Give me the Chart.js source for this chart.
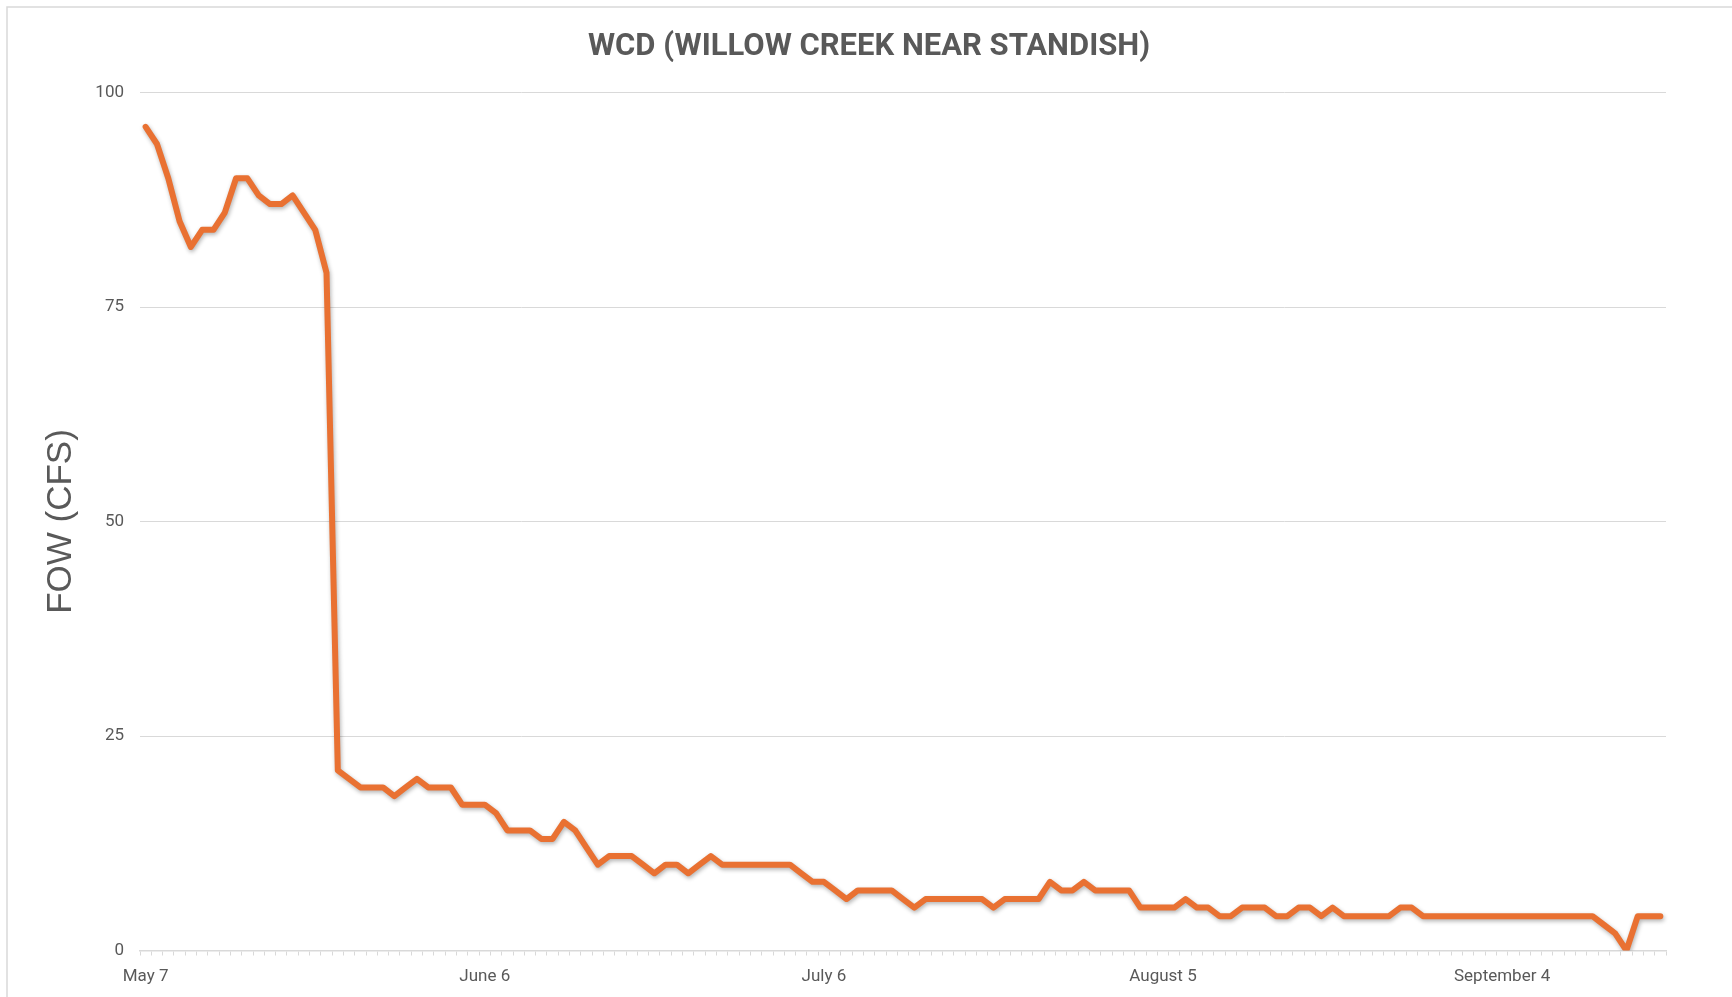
<!DOCTYPE html>
<html>
<head>
<meta charset="utf-8">
<title>WCD (Willow Creek near Standish)</title>
<script src="https://cdn.jsdelivr.net/npm/chart.js@4.4.1/dist/chart.umd.min.js"></script>
<style>
  html, body { margin: 0; padding: 0; background: #fff; }
  #wrap { position: relative; width: 1732px; height: 997px; }
</style>
</head>
<body>
<div id="wrap"><canvas id="flow-chart" width="1732" height="997"></canvas></div>
<script>
// daily flow readings, first reading on May 7
const START_MONTH = 4; // May (0-based)
const START_DAY = 7;
const flowCfs = [
  96, 94, 90, 85, 82, 84, 84, 86, 90, 90,
  88, 87, 87, 88, 86, 84, 79, 21, 20, 19,
  19, 19, 18, 19, 20, 19, 19, 19, 17, 17,
  17, 16, 14, 14, 14, 13, 13, 15, 14, 12,
  10, 11, 11, 11, 10, 9, 10, 10, 9, 10,
  11, 10, 10, 10, 10, 10, 10, 10, 9, 8,
  8, 7, 6, 7, 7, 7, 7, 6, 5, 6,
  6, 6, 6, 6, 6, 5, 6, 6, 6, 6,
  8, 7, 7, 8, 7, 7, 7, 7, 5, 5,
  5, 5, 6, 5, 5, 4, 4, 5, 5, 5,
  4, 4, 5, 5, 4, 5, 4, 4, 4, 4,
  4, 5, 5, 4, 4, 4, 4, 4, 4, 4,
  4, 4, 4, 4, 4, 4, 4, 4, 4, 3,
  2, 0, 4, 4, 4,
];
const xTickLabels = ['May 7', 'June 6', 'July 6', 'August 5', 'September 4'];
const X_LABEL_EVERY = 30;
const yTicks = [0, 25, 50, 75, 100];

const TITLE = 'WCD (WILLOW CREEK NEAR STANDISH)';
const Y_TITLE = 'FOW (CFS)';
const TEXT_COLOR = '#595959';
const GRID_COLOR = '#d9d9d9';
const LINE_COLOR = '#e97132';

const MONTHS = ['January', 'February', 'March', 'April', 'May', 'June', 'July',
  'August', 'September', 'October', 'November', 'December'];

function buildDateLabels(count) {
  const labels = [];
  for (let i = 0; i < count; i++) {
    const d = new Date(2024, START_MONTH, START_DAY + i);
    labels.push(MONTHS[d.getMonth()] + ' ' + d.getDate());
  }
  return labels;
}

const frameAndTitle = {
  id: 'frameAndTitle',
  beforeDraw(chart) {
    const ctx = chart.ctx;
    ctx.save();
    ctx.fillStyle = '#fff';
    ctx.fillRect(0, 0, chart.width, chart.height);
    ctx.strokeStyle = '#d9d9d9';
    ctx.lineWidth = 1.5;
    ctx.beginPath();
    ctx.moveTo(7, chart.height);
    ctx.lineTo(7, 7);
    ctx.lineTo(chart.width, 7);
    ctx.stroke();
    ctx.fillStyle = TEXT_COLOR;
    ctx.font = 'bold 31px Roboto';
    ctx.textAlign = 'center';
    ctx.textBaseline = 'middle';
    ctx.fillText(TITLE, 869, 47);
    ctx.restore();
  },
};

const lineShadow = {
  id: 'lineShadow',
  beforeDatasetsDraw(chart) {
    const ctx = chart.ctx;
    ctx.save();
    ctx.shadowColor = 'rgba(0, 0, 0, 0.3)';
    ctx.shadowBlur = 4;
    ctx.shadowOffsetX = 1;
    ctx.shadowOffsetY = 2;
  },
  afterDatasetsDraw(chart) {
    chart.ctx.restore();
  },
};

new Chart(document.getElementById('flow-chart'), {
  type: 'line',
  data: {
    labels: buildDateLabels(flowCfs.length),
    datasets: [
      {
        label: 'Flow',
        data: flowCfs,
        borderColor: LINE_COLOR,
        borderWidth: 6,
        borderJoinStyle: 'round',
        borderCapStyle: 'round',
        pointRadius: 0,
        tension: 0,
        fill: false,
      },
    ],
  },
  options: {
    responsive: false,
    animation: false,
    layout: { padding: { left: 0, right: 66, top: 92.5, bottom: 0 } },
    plugins: {
      legend: { display: false },
      tooltip: { enabled: false },
      title: { display: false },
    },
    scales: {
      x: {
        type: 'category',
        offset: true,
        grid: {
          offset: true,
          drawOnChartArea: false,
          drawTicks: true,
          tickLength: 5,
          color: GRID_COLOR,
        },
        border: { color: GRID_COLOR, width: 1.5 },
        ticks: {
          autoSkip: false,
          maxRotation: 0,
          minRotation: 0,
          padding: 11,
          color: TEXT_COLOR,
          font: { family: 'Roboto', size: 17 },
          callback: (value, index) =>
            index % X_LABEL_EVERY === 0 ? xTickLabels[index / X_LABEL_EVERY] : '',
        },
        afterFit: (scale) => { scale.height = 46.5; },
      },
      y: {
        min: 0,
        max: 100,
        afterBuildTicks: (scale) => { scale.ticks = yTicks.map((v) => ({ value: v })); },
        grid: { color: GRID_COLOR, lineWidth: 1, drawTicks: false },
        border: { display: false },
        ticks: {
          padding: 16,
          color: TEXT_COLOR,
          font: { family: 'Roboto', size: 17 },
        },
        title: {
          display: true,
          text: Y_TITLE,
          color: TEXT_COLOR,
          font: { family: 'Liberation Sans', size: 35 },
          padding: { top: 40, bottom: 0 },
        },
        afterFit: (scale) => { scale.width = 140; },
      },
    },
  },
  plugins: [frameAndTitle, lineShadow],
});
</script>
</body>
</html>
